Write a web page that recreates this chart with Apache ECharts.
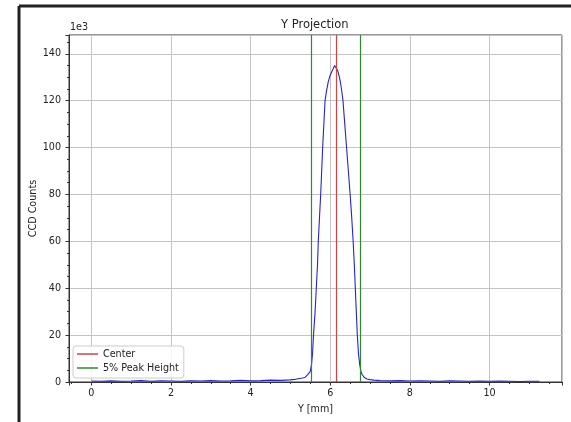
<!DOCTYPE html>
<html lang="en">

<head>
    <meta charset="UTF-8">
    <script src="https://cdn.jsdelivr.net/npm/echarts@6/dist/echarts.min.js"></script>
    <title>Y Projection</title>
    <style>
        html, body { margin: 0; padding: 0; background: #fff; }
        #main { width: 571px; height: 422px; }
    </style>
</head>

<body>
    <div id="main"></div>
    <script>
        // Y position [mm] and CCD counts (in units of 1e3)
        var yMm = [
            0.00, 0.25, 0.50, 0.75, 1.00, 1.25, 1.50, 1.75, 2.00, 2.25,
            2.50, 2.75, 3.00, 3.25, 3.50, 3.75, 4.00, 4.25, 4.50, 4.75,
            5.00, 5.10, 5.20, 5.30, 5.36, 5.43, 5.48, 5.50, 5.53, 5.555,
            5.58, 5.62, 5.65, 5.68, 5.70, 5.73, 5.76, 5.78, 5.81, 5.84,
            5.87, 5.91, 5.95, 5.99, 6.03, 6.07, 6.11, 6.13, 6.15, 6.18,
            6.20, 6.23, 6.26, 6.29, 6.32, 6.365, 6.41, 6.455, 6.50, 6.54,
            6.575, 6.605, 6.63, 6.655, 6.68, 6.71, 6.74, 6.77, 6.80,
            6.86, 6.92, 7.00, 7.10, 7.25, 7.50, 7.75, 8.00, 8.25, 8.50,
            8.75, 9.00, 9.25, 9.50, 9.75, 10.00, 10.25, 10.50, 10.75, 11.00,
            11.25
        ];
        var counts = [
            0.4, 0.3, 0.5, 0.3, 0.4, 0.6, 0.3, 0.5, 0.4, 0.3,
            0.5, 0.4, 0.6, 0.4, 0.5, 0.7, 0.5, 0.6, 0.8, 0.7,
            0.9, 1.1, 1.4, 1.7, 1.9, 3.0, 3.8, 4.5, 7.5, 12,
            20, 30, 40, 50, 60, 70, 80, 88, 100, 110,
            120, 124.5, 128, 130.5, 132, 133.5, 135, 135.3, 134.5, 133,
            132, 130, 127.5, 124, 120, 110, 100, 90, 80, 70,
            60, 50, 40, 30, 20, 12, 7.5, 4.5, 3.2,
            1.9, 1.3, 1.0, 0.8, 0.6, 0.5, 0.6, 0.4, 0.5, 0.4,
            0.3, 0.5, 0.4, 0.3, 0.4, 0.3, 0.4, 0.3, 0.2, 0.3,
            0.3
        ];
        var centerMm = [6.14];
        var peak5Mm = [5.53, 6.76];

        var fontFam = 'DejaVu Sans';
        var txt = '#222';

        var projData = [];
        for (var i = 0; i < yMm.length; i++) {
            projData.push([yMm[i], counts[i]]);
        }

        var chart = echarts.init(document.getElementById('main'));
        var option = {
            animation: false,
            backgroundColor: '#fff',
            title: {
                text: 'Y Projection',
                left: 276,
                top: 14,
                textStyle: { fontFamily: fontFam, fontSize: 11.5, fontWeight: 'normal', color: txt }
            },
            legend: {
                orient: 'vertical',
                left: 73,
                top: 346,
                data: ['Center', '5% Peak Height'],
                icon: 'rect',
                itemWidth: 21,
                itemHeight: 1.5,
                itemGap: 2,
                padding: [2, 5, 4, 4],
                borderColor: '#cccccc',
                borderWidth: 1,
                borderRadius: 3,
                backgroundColor: 'rgba(255,255,255,0.85)',
                textStyle: { fontFamily: fontFam, fontSize: 9.6, color: txt, lineHeight: 12 }
            },
            grid: {
                left: 69,
                right: 9,
                top: 35,
                bottom: 40,
                show: true,
                borderColor: '#333',
                borderWidth: 1,
                backgroundColor: '#fff'
            },
            xAxis: {
                type: 'value',
                min: -0.56,
                max: 11.82,
                splitNumber: 6,
                name: 'Y [mm]',
                nameLocation: 'middle',
                nameGap: 22,
                nameMoveOverlap: false,
                nameTextStyle: { fontFamily: fontFam, fontSize: 9.6, color: txt },
                axisLine: { show: true, onZero: false, lineStyle: { color: '#333', width: 1 } },
                axisTick: { show: true, length: 3.5, lineStyle: { color: '#333' } },
                minorTick: { show: true, splitNumber: 4, length: 2, lineStyle: { color: '#333' } },
                axisLabel: {
                    showMinLabel: false,
                    showMaxLabel: false,
                    margin: 6,
                    fontFamily: fontFam,
                    fontSize: 9.6,
                    color: txt
                },
                splitLine: { show: true, lineStyle: { color: '#c4c4c4', width: 1 } }
            },
            yAxis: {
                type: 'value',
                min: 0,
                max: 148,
                splitNumber: 7,
                name: 'CCD Counts',
                nameLocation: 'middle',
                nameGap: 31,
                nameMoveOverlap: false,
                nameTextStyle: { fontFamily: fontFam, fontSize: 9.6, color: txt },
                axisLine: { show: true, onZero: false, lineStyle: { color: '#333', width: 1 } },
                axisTick: { show: true, length: 3.5, lineStyle: { color: '#333' } },
                minorTick: { show: true, splitNumber: 4, length: 2, lineStyle: { color: '#333' } },
                axisLabel: {
                    showMaxLabel: false,
                    margin: 8,
                    fontFamily: fontFam,
                    fontSize: 9.6,
                    color: txt
                },
                splitLine: { show: true, lineStyle: { color: '#c4c4c4', width: 1 } }
            },
            graphic: [
                {
                    type: 'text',
                    left: 70,
                    top: 22,
                    style: { text: '1e3', font: '9.6px "DejaVu Sans"', fill: txt }
                },
                {
                    type: 'line',
                    shape: { x1: 19, y1: 6, x2: 19, y2: 422 },
                    style: { stroke: '#222', lineWidth: 3 }
                },
                {
                    type: 'line',
                    shape: { x1: 19, y1: 6, x2: 571, y2: 6 },
                    style: { stroke: '#222', lineWidth: 3 }
                }
            ],
            series: [
                {
                    name: 'Projection',
                    type: 'line',
                    showSymbol: false,
                    symbol: 'none',
                    data: projData,
                    lineStyle: { color: '#2424d4', width: 1.1 },
                    z: 3
                },
                {
                    name: 'Center',
                    type: 'line',
                    data: [],
                    itemStyle: { color: '#d04444' },
                    lineStyle: { color: '#d04444' },
                    markLine: {
                        silent: true,
                        symbol: ['none', 'none'],
                        label: { show: false },
                        lineStyle: { color: '#d04444', width: 1.2, type: 'solid' },
                        data: centerMm.map(function (v) { return { xAxis: v }; })
                    },
                    z: 4
                },
                {
                    name: '5% Peak Height',
                    type: 'line',
                    data: [],
                    itemStyle: { color: '#2f8a2f' },
                    lineStyle: { color: '#2f8a2f' },
                    markLine: {
                        silent: true,
                        symbol: ['none', 'none'],
                        label: { show: false },
                        lineStyle: { color: '#2f8a2f', width: 1.2, type: 'solid' },
                        data: peak5Mm.map(function (v) { return { xAxis: v }; })
                    },
                    z: 4
                }
            ]
        };

        chart.setOption(option);
    </script>
</body>

</html>
